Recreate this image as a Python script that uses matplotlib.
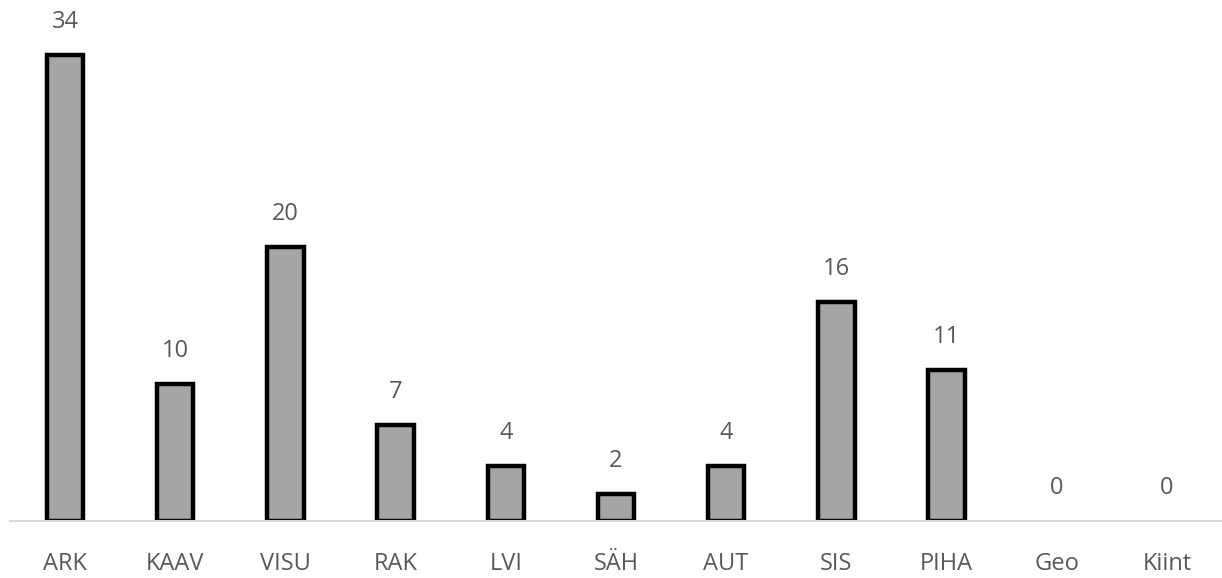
import matplotlib.pyplot as plt

categories = ["ARK", "KAAV", "VISU", "RAK", "LVI", "SÄH", "AUT", "SIS", "PIHA", "Geo", "Kiint"]
counts = [34, 10, 20, 7, 4, 2, 4, 16, 11, 0, 0]

plt.rcParams['font.family'] = ['Open Sans', 'DejaVu Sans']

fig = plt.figure(figsize=(12.22, 5.78), dpi=100)
ax = fig.add_axes([10 / 1222, 57 / 578, 1212 / 1222, 521 / 578])

x = range(len(categories))
bars = ax.bar(x, counts, width=0.33, color="#A5A5A5", edgecolor="black", linewidth=3.2, zorder=3)
# empty categories get no outline
for b, v in zip(bars, counts):
    if v == 0:
        b.set_visible(False)

for xi, v in zip(x, counts):
    ax.annotate(str(v), (xi, v), xytext=(0, 15), textcoords="offset points",
                ha="center", va="bottom", fontsize=17, color="#595959")

ax.set_xlim(-0.5, len(categories) - 0.5)
ax.set_ylim(0, 38)
ax.set_xticks(list(x))
ax.set_xticklabels(categories, fontsize=17, color="#595959")
ax.tick_params(axis="x", length=0, pad=22)
ax.set_yticks([])

for side in ["top", "right", "left"]:
    ax.spines[side].set_visible(False)
ax.spines["bottom"].set_color("#D9D9D9")
ax.spines["bottom"].set_linewidth(1.5)
ax.spines["bottom"].set_zorder(4)

fig.savefig("out.png", dpi=100)
